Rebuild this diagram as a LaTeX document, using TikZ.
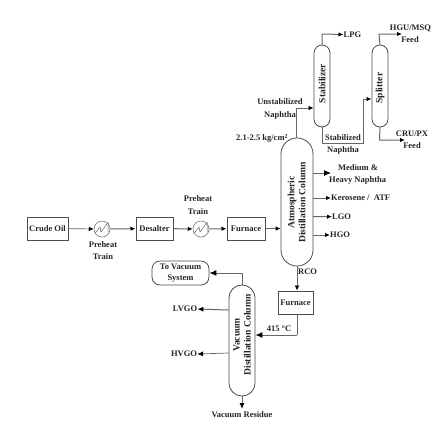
\documentclass[tikz,border=0pt]{standalone}
\usepackage{fontspec}
\setmainfont{Liberation Serif}
\usetikzlibrary{arrows.meta,shapes.misc,calc}
\newcommand{\lblfont}{\bfseries\fontsize{8.5}{10}\selectfont}
\newcommand{\rotfont}{\bfseries\fontsize{9.6}{11}\selectfont}
\tikzset{
  lbl/.style={font=\lblfont,align=center,inner sep=0pt,text=black!85},
  boxn/.style={draw=black!70,line width=1pt,minimum height=23pt,inner sep=0pt,font=\lblfont,text=black!85},
  col/.style={draw=black!70,line width=0.8pt,rounded corners=#1,inner sep=0pt,fill=white,text=black!85},
  rot/.style={inner sep=0pt,rotate=90,align=center,font=\rotfont,text=black!85},
  ln/.style={draw=black!60,line width=1pt,-{Latex[length=5pt,width=4.5pt,black]}},
  pl/.style={draw=black!60,line width=1pt},
  hx/.style={circle,draw=black!60,line width=0.5pt,minimum size=16pt,inner sep=0pt}
}
\begin{document}
\begin{tikzpicture}[x=1pt,y=-1pt]
\useasboundingbox (0,0) rectangle (433,424);
\fill[white] (0,0) rectangle (433,424);
% boxes
\node[boxn,minimum width=41pt] (crude) at (47.5,228.5) {Crude Oil};
\node[hx] (he1) at (102,229) {};
\node[boxn,minimum width=37pt] (desalter) at (154.5,228.5) {Desalter};
\node[hx] (he2) at (201,229) {};
\node[boxn,minimum width=38pt] (furn1) at (246,228.5) {Furnace};
\node[boxn,minimum width=35pt] (furn2) at (295.5,302.5) {Furnace};
% columns
\node[col=8pt,minimum width=16pt,minimum height=82pt] (stab) at (322,86) {};
\node[rot] (stabt) at (322,83.5) {Stabilizer};
\node[col=8pt,minimum width=16pt,minimum height=82pt] (split) at (380,86) {};
\node[rot] (splitt) at (380,88) {Splitter};
\node[col=15.9pt,minimum width=32pt,minimum height=128pt] (atm) at (297,202) {};
\node[rot] (atmt) at (296.5,202.5) {Atmospheric\\Distillation Column};
\node[col=12.9pt,minimum width=26pt,minimum height=111pt] (vac) at (242,340.5) {};
\node[rot] (vact) at (242,335) {Vacuum\\Distillation Column};
\node[draw=black!70,line width=0.8pt,rounded corners=8pt,minimum width=57pt,minimum height=24pt,inner sep=0pt,lbl] (tovac) at (180.5,273) {To Vacuum\\[1pt]System};
% labels
\node[lbl,anchor=west] (lpg) at (343.5,34.5) {LPG};
\node[lbl] (hgu) at (410.5,28) {HGU/MSQ};
\node[lbl] (hguf) at (410,40) {Feed};
\node[lbl] (cru) at (412,134) {CRU/PX};
\node[lbl] (cruf) at (412,146) {Feed};
\node[lbl] (un) at (280,102) {Unstabilized};
\node[lbl] (na) at (280,115) {Naphtha};
\node[lbl,anchor=west] (press) at (236,138.5) {2.1-2.5 kg/cm\textsuperscript{2}};
\node[lbl] (sn) at (343,138) {Stabilized};
\node[lbl] (sn2) at (343,150) {Naphtha};
\node[lbl] (mh1) at (358,168) {Medium \&};
\node[lbl,anchor=west] (mh2) at (329,180) {Heavy Naphtha};
\node[lbl,anchor=west] (ker) at (331,198) {Kerosene /\ \ ATF};
\node[lbl,anchor=west] (lgo) at (332,216.7) {LGO};
\node[lbl,anchor=west] (hgo) at (330,235) {HGO};
\node[lbl] (pt1) at (103,245) {Preheat};
\node[lbl] (pt1b) at (103,256.5) {Train};
\node[lbl] (pt2) at (198,199) {Preheat};
\node[lbl] (pt2b) at (198,211.5) {Train};
\node[lbl,anchor=west] (rco) at (298,272) {RCO};
\node[lbl] (t415) at (279,329) {415 °C};
\node[lbl] (lvgo) at (185,309) {LVGO};
\node[lbl] (hvgo) at (184,354) {HVGO};
\node[lbl] (vres) at (242,415) {Vacuum Residue};
% heat exchanger zigzags
\draw[black!60,line width=0.5pt] (95,233.5) -- (100,227) -- (101,232) -- (108,222.5) -- (108,232);
\draw[black!60,line width=0.5pt] (194,233.5) -- (199,227) -- (200,232) -- (207,222.5) -- (207,232);
% main train
\draw[ln,line width=0.7pt] (crude) -- (he1);
\draw[ln] (he1) -- (desalter);
\draw[ln] (desalter) -- (he2);
\draw[ln] (he2) -- (furn1);
\draw[ln] (furn1) -- (atm.west |- furn1);
% overhead
\draw[ln,line width=0.7pt] (296.5,138) -- (296.5,108) -- (stab.west |- 0,108);
\draw[ln] (stab.north) -- (322,34) -- (lpg.west);
\draw[pl,line width=0.8pt] (stab.south) -- (322,143) -- (363,143) -- (363,99);
\draw[ln] (363,99) -- (split.west |- 0,99);
\draw[ln] (split.north) -- (379,34) -- (402,34);
\draw[ln] (split.south) -- (379.5,140) -- (405,140);
\draw[ln,-{Latex[length=7pt,width=6pt,black]}] (313,173) -- (331,173);
\draw[ln] (313,198) -- (ker.west);
\draw[ln] (313,216.5) -- (lgo.west);
\draw[ln] (313,235) -- (hgo.west);
% RCO and vacuum
\draw[ln,line width=0.7pt] (atm.south) -- (furn2.north -| atm.south);
\draw[pl,line width=0.8pt] (furn2.south -| 297,0) -- (297,335);
\draw[ln,-{Latex[length=7pt,width=6pt,black]}] (297,335) -- (vac.east |- 0,335);
\draw[ln,-{Latex[length=7pt,width=6pt,black]}] (242,285) -- (242,273) -- (tovac.east);
\draw[ln,-{Latex[length=6pt,width=5pt,black]}] (vac.west |- 0,310) -- (lvgo.east);
\draw[ln,-{Latex[length=6pt,width=5pt,black]},line width=0.7pt] (vac.west |- 0,353) -- (hvgo.east);
\draw[ln,-{Latex[length=6pt,width=5pt,black]}] (vac.south) -- (242,409);
\end{tikzpicture}
\end{document}
